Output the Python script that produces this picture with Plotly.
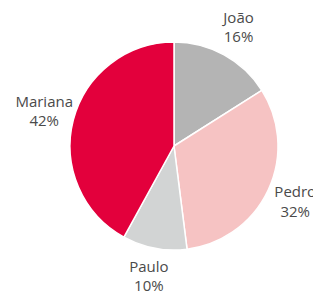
import plotly.graph_objects as go

names = ["João", "Pedro", "Paulo", "Mariana"]
values = [16, 32, 10, 42]
colors = ["#b4b4b4", "#f6c3c3", "#d2d4d4", "#e3003c"]

W, H = 321, 294
off = 8  # page body margin
cx, cy, r = 174 - off, 146 - off, 104
pr = 137            # polar (label) subplot radius, px
label_r = 134 / r   # label distance in pie radii


def dom(rad):
    return dict(x=[(cx - rad) / W, (cx + rad) / W],
                y=[max(0, 1 - (cy + rad) / H), min(1, 1 - (cy - rad) / H)])


total = sum(values)
mid_theta = []
acc = 0
for v in values:
    mid_theta.append((acc + v / 2) / total * 360)
    acc += v

fig = go.Figure()
fig.add_trace(go.Pie(
    labels=names, values=values, sort=False, direction="clockwise", rotation=0,
    marker=dict(colors=colors, line=dict(color="white", width=1.5)),
    textinfo="none", showlegend=False, hoverinfo="skip", domain=dom(r), automargin=False,
))
fig.add_trace(go.Scatterpolar(
    r=[label_r] * len(values), theta=mid_theta, mode="text",
    text=[f"{n}<br>{v}%" for n, v in zip(names, values)],
    textposition="middle center", cliponaxis=False,
    textfont=dict(family="Open Sans, sans-serif", size=15, color="#4a4a4a"),
    showlegend=False, hoverinfo="skip",
))
fig.update_layout(
    width=W, height=H,
    margin=dict(l=0, r=0, t=0, b=0, autoexpand=False),
    paper_bgcolor="white", plot_bgcolor="white",
    polar=dict(
        domain=dom(pr), bgcolor="rgba(0,0,0,0)",
        radialaxis=dict(range=[0, pr / r], visible=False),
        angularaxis=dict(rotation=90, direction="clockwise", visible=False),
    ),
)
fig.write_html("out.html")
